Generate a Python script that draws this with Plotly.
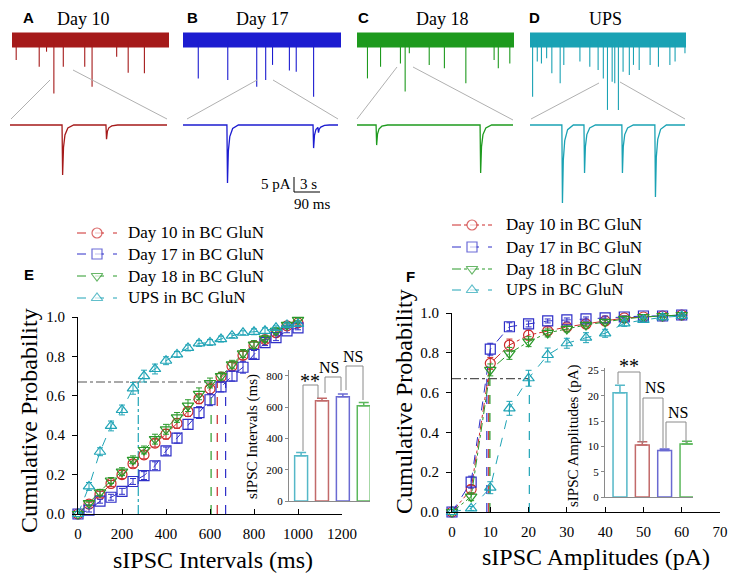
import numpy as np
import plotly.graph_objects as go

W, H = 738, 587
OFF = 8          # the page body margin shifts the figure by 8 px
SERIF = "Liberation Serif"
SANS = "Liberation Sans"

# ---- panel E: cumulative sIPSC intervals ----
E_X = [0, 50, 100, 150, 200, 250, 300, 350, 400, 450, 500,
       550, 600, 650, 700, 750, 800, 850, 900, 950, 1000]
E_DAY10 = [0, 0.05, 0.10, 0.155, 0.20, 0.255, 0.30, 0.36, 0.405, 0.46, 0.52,
           0.585, 0.635, 0.695, 0.75, 0.805, 0.855, 0.885, 0.92, 0.955, 0.97]
E_DAY17 = [0, 0.02, 0.065, 0.085, 0.115, 0.165, 0.195, 0.245, 0.32, 0.385, 0.455,
           0.515, 0.58, 0.645, 0.70, 0.745, 0.81, 0.87, 0.895, 0.93, 0.945]
E_DAY18 = [0, 0.055, 0.11, 0.17, 0.215, 0.275, 0.325, 0.38, 0.43, 0.49, 0.55,
           0.61, 0.665, 0.70, 0.76, 0.815, 0.86, 0.89, 0.93, 0.96, 0.985]
E_UPS = [0, 0.14, 0.316, 0.447, 0.528, 0.638, 0.70, 0.736, 0.778, 0.81, 0.843,
         0.866, 0.871, 0.888, 0.905, 0.92, 0.925, 0.93, 0.945, 0.96, 0.965]
E_DAY10_ERR = [0, 0.01, 0.015, 0.015, 0.02, 0.02, 0.02, 0.02, 0.025, 0.025, 0.025,
               0.025, 0.025, 0.02, 0.02, 0.02, 0.02, 0.015, 0.015, 0.01, 0.01]
E_DAY17_ERR = [0, 0.01, 0.01, 0.015, 0.015, 0.015, 0.02, 0.02, 0.02, 0.025, 0.025,
               0.03, 0.03, 0.025, 0.025, 0.03, 0.02, 0.015, 0.015, 0.01, 0.01]
E_DAY18_ERR = [0, 0.01, 0.015, 0.015, 0.02, 0.02, 0.02, 0.025, 0.025, 0.025, 0.03,
               0.03, 0.025, 0.02, 0.02, 0.02, 0.02, 0.015, 0.015, 0.01, 0.01]
E_UPS_ERR = [0, 0.02, 0.02, 0.025, 0.025, 0.03, 0.03, 0.025, 0.02, 0.015, 0.015,
             0.015, 0.015, 0.015, 0.01, 0.01, 0.015, 0.015, 0.01, 0.01, 0.01]
E_MEDIANS = [633, 671, 605, 274]          # Day 10, Day 17, Day 18, UPS
# ---- panel F: cumulative sIPSC amplitudes ----
F_X = [0, 5, 10, 15, 20, 25, 30, 35, 40, 45, 50, 55, 60]
F_DAY10 = [0, 0.114, 0.747, 0.839, 0.889, 0.91, 0.93, 0.945, 0.96, 0.975, 0.98, 0.985, 0.99]
F_DAY17 = [0, 0.15, 0.818, 0.931, 0.945, 0.96, 0.965, 0.97, 0.975, 0.98, 0.985, 0.985, 0.99]
F_DAY18 = [0, 0.077, 0.714, 0.797, 0.856, 0.90, 0.92, 0.94, 0.955, 0.97, 0.98, 0.985, 0.99]
F_UPS = [0, 0.018, 0.122, 0.521, 0.672, 0.789, 0.848, 0.876, 0.898, 0.948, 0.965, 0.978, 0.985]
F_DAY10_ERR = [0, 0.02, 0.03, 0.03, 0.025, 0.02, 0.015, 0.01, 0.01, 0.01, 0.01, 0.005, 0.005]
F_DAY17_ERR = [0, 0.03, 0.03, 0.02, 0.015, 0.01, 0.01, 0.01, 0.01, 0.005, 0.005, 0.005, 0.005]
F_DAY18_ERR = [0, 0.02, 0.03, 0.03, 0.025, 0.02, 0.015, 0.01, 0.01, 0.01, 0.01, 0.005, 0.005]
F_UPS_ERR = [0, 0.01, 0.03, 0.035, 0.04, 0.035, 0.025, 0.025, 0.02, 0.015, 0.01, 0.01, 0.005]
F_MEDIANS = [9.6, 9.1, 9.9, 20.2]
P_LEVEL = 0.67

# ---- insets (order: UPS, Day 10, Day 17, Day 18) ----
E_BAR_MEANS = [290, 642, 667, 610]
E_BAR_SEM = [20, 15, 17, 20]
F_BAR_MEANS = [20.6, 10.3, 9.2, 10.5]
F_BAR_SEM = [1.5, 0.6, 0.3, 0.5]

# ---- example traces A-D: raw sweep events (s, pA) and expanded events (ms, pA) ----
A_SPIKE_T = [0.8, 5.2, 6.6, 8.0, 9.8, 13.9, 15.3, 20.0, 22.2, 25.3]
A_SPIKE_PA = [6.7, 8.9, 3.9, 17.8, 8.9, 8.9, 15.6, 5.6, 10.9, 11.1]
B_SPIKE_T = [2.9, 8.5, 14.0, 15.7, 17.0, 20.2, 21.5, 24.8]
B_SPIKE_PA = [12.8, 13.3, 15.6, 13.3, 8.3, 10.2, 10.6, 18.9]
C_SPIKE_T = [2.0, 4.5, 8.3, 9.2, 10.0, 13.8, 16.7, 20.8, 26.2, 27.0, 29.2]
C_SPIKE_PA = [12.8, 8.9, 7.8, 17.2, 4.4, 8.3, 9.4, 14.4, 6.7, 9.4, 7.8]
D_SPIKE_T = [0.5, 1.4, 2.2, 3.2, 4.2, 5.8, 6.5, 9.6, 11.5, 13.1, 14.1, 14.9,
             15.8, 16.3, 17.0, 17.9, 19.1, 19.9, 21.0, 23.1, 24.7, 26.9, 27.9, 29.8]
D_SPIKE_PA = [18.9, 7.2, 7.8, 6.1, 11.1, 14.4, 8.3, 7.2, 8.9, 10.0, 12.8, 23.3,
              13.9, 14.4, 23.3, 10.6, 11.7, 8.3, 10.0, 8.3, 8.9, 8.3, 7.2, 4.4]
A_EVT_MS = [179, 330]
A_EVT_PA = [16.7, 4.7]
B_EVT_MS = [153, 453, 470]
B_EVT_PA = [19.3, 7.7, 2.0]
C_EVT_MS = [66, 426]
C_EVT_PA = [6.7, 16.0]
D_EVT_MS = [111, 188, 320, 435]
D_EVT_PA = [26.0, 16.0, 16.0, 24.0]
SWEEP_S = 30
ZOOM_MS = 540
EVENT_SHAPE_MS = [0, 2, 5, 10, 20, 40]
EVENT_SHAPE_FRAC = [0, 1, 0.45, 0.2, 0.06, 0]

NAMES = ["Day 10 in BC GluN", "Day 17 in BC GluN", "Day 18 in BC GluN", "UPS in BC GluN"]
RED, BLUE, GREEN, CYAN = "#cc2a2a", "#2e2ec8", "#2a9a2a", "#20a4b6"
TRACE_COLORS = ["#a51a1a", "#1c1cd0", "#1e9a1e", "#1aa2b4"]
BAR_COLORS = ["#55b8c8", "#c26a6a", "#6a6ad2", "#5cb85c"]
GRAY = "#8a8a8a"


def px_x(p):
    return (p - OFF) / W


def px_y(p):
    return 1 - (p - OFF) / H


fig = go.Figure()

# ---- main cumulative plots ----
def add_medians(meds, colors, dashes, xa, ya):
    fig.add_trace(go.Scatter(x=[0, max(meds)], y=[P_LEVEL, P_LEVEL], mode="lines",
                             line=dict(color="#555555", width=1.2, dash="dashdot"),
                             showlegend=False, xaxis=xa, yaxis=ya, hoverinfo="skip"))
    for m, c, d in zip(meds, colors, dashes):
        fig.add_trace(go.Scatter(x=[m, m], y=[0, P_LEVEL], mode="lines",
                                 line=dict(color=c, width=1.2, dash=d),
                                 showlegend=False, xaxis=xa, yaxis=ya, hoverinfo="skip"))


add_medians(E_MEDIANS, [RED, BLUE, GREEN, CYAN], ["dash", "dash", "dash", "dashdot"], "x", "y")
add_medians(F_MEDIANS, [RED, BLUE, GREEN, CYAN], ["dash", "dash", "dash", "dash"], "x3", "y3")

colors = [RED, BLUE, GREEN, CYAN]
symbols = ["circle-open", "square-open", "triangle-down-open", "triangle-up-open"]
e_series = [(E_DAY10, E_DAY10_ERR), (E_DAY17, E_DAY17_ERR), (E_DAY18, E_DAY18_ERR), (E_UPS, E_UPS_ERR)]
f_series = [(F_DAY10, F_DAY10_ERR), (F_DAY17, F_DAY17_ERR), (F_DAY18, F_DAY18_ERR), (F_UPS, F_UPS_ERR)]
e_dashes = ["dash", "dash", "dash", "dash"]
f_dashes = ["dashdot", "dash", "dashdot", "dash"]

for i in range(4):
    for xs, (ys, errs), dash, xa, ya in [(E_X, e_series[i], e_dashes[i], "x", "y"),
                                         (F_X, f_series[i], f_dashes[i], "x3", "y3")]:
        fig.add_trace(go.Scatter(
            x=xs, y=ys, mode="lines+markers", name=NAMES[i],
            line=dict(color=colors[i], width=1, dash=dash),
            marker=dict(symbol=symbols[i], size=10, color=colors[i], line=dict(width=1.2, color=colors[i])),
            error_y=dict(type="data", array=errs, color=colors[i], thickness=1, width=3),
            xaxis=xa, yaxis=ya, showlegend=False, cliponaxis=False))

# ---- hand-drawn legends (overlay axis in screen pixels) ----
legend_rows = [(77, 127, [233, 254, 276, 298], e_dashes), (452, 505, [225, 247, 269, 290], f_dashes)]
for x0, xt, rows, dashes in legend_rows:
    for i in range(4):
        fig.add_trace(go.Scatter(
            x=[x0, x0 + 20, x0 + 40], y=[rows[i]] * 3, mode="lines+markers",
            line=dict(color=colors[i], width=1, dash=dashes[i]),
            marker=dict(symbol=symbols[i].replace("-open", ""), size=[0, 10, 0], color="white",
                        line=dict(width=1.2, color=colors[i])),
            xaxis="x13", yaxis="y13", showlegend=False, hoverinfo="skip", cliponaxis=False))

# ---- inset bars ----
for means, sems, xa, ya in [(E_BAR_MEANS, E_BAR_SEM, "x2", "y2"), (F_BAR_MEANS, F_BAR_SEM, "x4", "y4")]:
    for i in range(4):
        fig.add_trace(go.Bar(
            x=[i], y=[means[i]], width=0.62,
            marker=dict(color="white", line=dict(color=BAR_COLORS[i], width=1.5)),
            error_y=dict(type="data", symmetric=False, array=[sems[i]], arrayminus=[0],
                         color=BAR_COLORS[i], thickness=1.5, width=5),
            xaxis=xa, yaxis=ya, showlegend=False, cliponaxis=False))

# ---- example traces ----
spikes = [(A_SPIKE_T, A_SPIKE_PA), (B_SPIKE_T, B_SPIKE_PA), (C_SPIKE_T, C_SPIKE_PA), (D_SPIKE_T, D_SPIKE_PA)]
events = [(A_EVT_MS, A_EVT_PA), (B_EVT_MS, B_EVT_PA), (C_EVT_MS, C_EVT_PA), (D_EVT_MS, D_EVT_PA)]
for i in range(4):
    c = TRACE_COLORS[i]
    xr, yr = "x%d" % (5 + i), "y%d" % (5 + i)
    fig.add_trace(go.Scatter(x=[0, SWEEP_S], y=[0, 0], mode="lines", line=dict(color=c, width=15),
                             xaxis=xr, yaxis=yr, showlegend=False, hoverinfo="skip"))
    sx, sy = [], []
    for t, a in zip(*spikes[i]):
        sx += [t, t, None]
        sy += [0, -a, None]
    fig.add_trace(go.Scatter(x=sx, y=sy, mode="lines", line=dict(color=c, width=1.1),
                             xaxis=xr, yaxis=yr, showlegend=False, hoverinfo="skip"))
    # expanded sweep
    ev_t, ev_a = events[i]
    ts = sorted(set([0, ZOOM_MS] + [e + s for e in ev_t for s in EVENT_SHAPE_MS if e + s <= ZOOM_MS]))
    ts = np.array(ts, dtype=float)
    ys = np.zeros_like(ts)
    for e, a in zip(ev_t, ev_a):
        ys -= a * np.interp(ts - e, EVENT_SHAPE_MS, EVENT_SHAPE_FRAC, left=0, right=0)
    fig.add_trace(go.Scatter(x=ts, y=ys, mode="lines", line=dict(color=c, width=1.3),
                             xaxis="x%d" % (9 + i), yaxis="y%d" % (9 + i),
                             showlegend=False, hoverinfo="skip"))

# ---- axes ----
tickfont = dict(family=SERIF, size=15, color="black")
main_ax = dict(showline=True, linecolor="black", linewidth=1, showgrid=False, zeroline=False,
               tickfont=tickfont, tickcolor="black", ticklen=5, automargin=False)
inset_ax = dict(showline=True, linecolor=GRAY, linewidth=1, showgrid=False, zeroline=False,
                tickfont=dict(family=SERIF, size=11, color="black"), tickcolor=GRAY, ticklen=3,
                automargin=False)

layout_axes = dict(
    xaxis=dict(main_ax, domain=[px_x(78), px_x(342)], range=[0, 1200], tickvals=[0, 200, 400, 600, 800, 1000, 1200],
               ticks="inside", ticklabelstandoff=6, anchor="y"),
    yaxis=dict(main_ax, domain=[px_y(514), px_y(317)], range=[0, 1.0], dtick=0.2, tickformat=".1f",
               ticks="outside", ticklabelstandoff=4, anchor="x"),
    xaxis3=dict(main_ax, domain=[px_x(452), px_x(720)], range=[0, 70], dtick=10, ticks="inside",
                ticklabelstandoff=6, anchor="y3"),
    yaxis3=dict(main_ax, domain=[px_y(512), px_y(313)], range=[0, 1.0], dtick=0.2, tickformat=".1f",
                ticks="outside", ticklabelstandoff=4, anchor="x3"),
    xaxis2=dict(inset_ax, domain=[px_x(289), px_x(370)], range=[-0.58, 3.3], showticklabels=False,
                ticks="", anchor="y2"),
    yaxis2=dict(inset_ax, domain=[px_y(501), px_y(370)], range=[0, 838], tickvals=[0, 200, 400, 600, 800],
                ticks="outside", anchor="x2"),
    xaxis4=dict(inset_ax, domain=[px_x(605), px_x(693)], range=[-0.67, 3.27], showticklabels=False,
                ticks="", anchor="y4"),
    yaxis4=dict(inset_ax, domain=[px_y(497), px_y(368)], range=[0, 25.5], tickvals=[0, 5, 10, 15, 20, 25],
                ticks="outside", anchor="x4"),
    xaxis13=dict(visible=False, domain=[0, 1], range=[OFF, W + OFF], anchor="y13", automargin=False),
    yaxis13=dict(visible=False, domain=[0, 1], range=[H + OFF, OFF], anchor="x13", automargin=False),
)
raw_x = [(12, 169), (183, 341), (357, 514), (530, 686)]
zoom_x = [(10, 167), (183, 338), (357, 513), (530, 685)]
for i in range(4):
    layout_axes["xaxis%d" % (5 + i)] = dict(visible=False, domain=[px_x(raw_x[i][0]), px_x(raw_x[i][1])],
                                            range=[0, SWEEP_S], anchor="y%d" % (5 + i), automargin=False)
    layout_axes["yaxis%d" % (5 + i)] = dict(visible=False, domain=[px_y(115), px_y(25)],
                                            range=[-25, 5], anchor="x%d" % (5 + i), automargin=False)
    layout_axes["xaxis%d" % (9 + i)] = dict(visible=False, domain=[px_x(zoom_x[i][0]), px_x(zoom_x[i][1])],
                                            range=[0, ZOOM_MS], anchor="y%d" % (9 + i), automargin=False)
    layout_axes["yaxis%d" % (9 + i)] = dict(visible=False, domain=[px_y(215), px_y(110)],
                                            range=[-30, 5], anchor="x%d" % (9 + i), automargin=False)

# ---- shapes: connectors, scale bar, significance brackets ----
shapes = []


def seg(pts, color=GRAY, width=1):
    for (x0, y0), (x1, y1) in zip(pts[:-1], pts[1:]):
        shapes.append(dict(type="line", xref="paper", yref="paper", x0=px_x(x0), y0=px_y(y0),
                           x1=px_x(x1), y1=px_y(y1), line=dict(color=color, width=width)))


for a, b in [((50, 80), (11, 119)), ((73, 70), (167, 119)), ((257, 80), (187, 119)), ((273, 80), (338, 119)),
             ((397, 67), (357, 119)), ((413, 67), (513, 120)), ((599, 83), (531, 119)), ((620, 82), (685, 119))]:
    seg([a, b], color="#b0b0b0", width=1)
seg([(294, 177), (294, 192), (320, 192)], color="black", width=1)

# inset brackets (pixel positions)
seg([(303, 451), (303, 385), (318, 385), (318, 398)])
seg([(325, 393), (325, 377), (341, 377), (341, 391)])
seg([(346, 390), (346, 366), (363, 366), (363, 400)])
seg([(618, 384), (618, 372), (640, 372), (640, 442)])
seg([(643, 443), (643, 398), (663, 398), (663, 448)])
seg([(666, 448), (666, 422), (686, 422), (686, 443)])

# ---- annotations ----
ann = []


def text(x, y, s, size, family=SERIF, angle=0, xanchor="center", bold=False, yanchor="middle"):
    ann.append(dict(x=px_x(x), y=px_y(y), xref="paper", yref="paper", text="<b>%s</b>" % s if bold else s,
                    showarrow=False, textangle=angle, xanchor=xanchor, yanchor=yanchor, borderpad=0,
                    font=dict(family=family, size=size, color="black")))


for lbl, x in [("A", 28), ("B", 193), ("C", 363), ("D", 534)]:
    text(x, OFF, lbl, 15, SANS, bold=True, yanchor="top")
for title, x in [("Day 10", 83), ("Day 17", 262), ("Day 18", 442), ("UPS", 605)]:
    text(x, OFF, title, 18, yanchor="top")
text(292, 184, "5 pA", 15, xanchor="right")
text(308, 184, "3 s", 15)
text(312, 204, "90 ms", 15)
text(29, 274, "E", 15, SANS, bold=True)
text(410, 276, "F", 15, SANS, bold=True)
text(29, 421, "Cumulative Probability", 24, angle=-90)
text(404, 402, "Cumulative Probability", 24, angle=-90)
text(213, 560, "sIPSC Intervals (ms)", 24)
text(596, 557, "sIPSC Amplitudes (pA)", 24)
text(252, 437, "sIPSC Intervals (ms)", 15, angle=-90)
text(573, 436, "sIPSC Amplitudes (pA)", 15, angle=-90)
text(310, 381, "**", 20)
text(329, 367, "NS", 16)
text(353, 356, "NS", 16)
text(629, 366, "**", 20)
text(655, 388, "NS", 16)
text(678, 412, "NS", 16)
for x0, xt, rows, _ in legend_rows:
    for i in range(4):
        text(xt, rows[i], NAMES[i], 17, xanchor="left")

fig.update_layout(
    template="none",
    width=W, height=H, margin=dict(l=0, r=0, t=0, b=0, autoexpand=False),
    paper_bgcolor="white", plot_bgcolor="rgba(0,0,0,0)", barmode="overlay", showlegend=False,
    shapes=shapes, annotations=ann, **layout_axes,
)

fig.write_html("out.html")
